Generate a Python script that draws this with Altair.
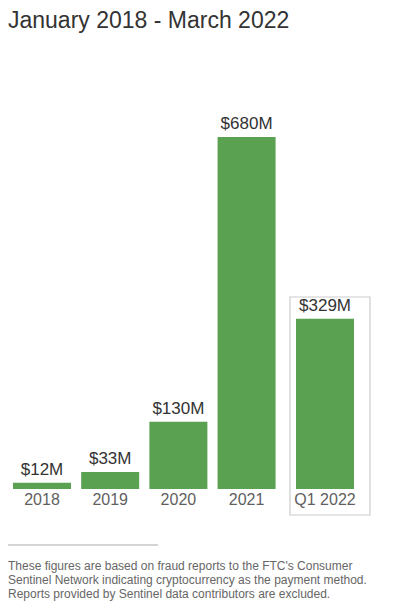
import altair as alt
import pandas as pd

categories = ["2018", "2019", "2020", "2021", "Q1 2022"]
values = [12, 33, 130, 680, 329]
value_labels = ["$12M", "$33M", "$130M", "$680M", "$329M"]

title_text = "January 2018 - March 2022"
footnote = [
    "These figures are based on fraud reports to the FTC's Consumer",
    "Sentinel Network indicating cryptocurrency as the payment method.",
    "Reports provided by Sentinel data contributors are excluded.",
]

# position index along x; the last (partial-year) bar is set a little apart
gap = 0.15
pos = [i + (gap if c.startswith("Q") else 0) for i, c in enumerate(categories)]

df = pd.DataFrame({"cat": categories, "value": values, "label": value_labels, "pos": pos})

GREEN = "#5aa152"
FONT = "Liberation Sans"

xscale = alt.Scale(domain=[0, 4.15], range=[29, 322])
yscale = alt.Scale(domain=[0, 680], range=[481, 129])

base = alt.Chart(df)

bars = base.mark_bar(color=GREEN, size=58).encode(
    x=alt.X("pos:Q", scale=xscale, axis=None),
    y=alt.Y("value:Q", scale=yscale, axis=None),
)

vlabels = base.mark_text(font=FONT, fontSize=17, color="#333333", baseline="bottom", dy=-4).encode(
    x=alt.X("pos:Q", scale=xscale, axis=None),
    y=alt.Y("value:Q", scale=yscale, axis=None),
    text="label:N",
)

clabels = base.mark_text(font=FONT, fontSize=16, color="#5f5f5f", baseline="alphabetic").encode(
    x=alt.X("pos:Q", scale=xscale, axis=None),
    y=alt.value(497),
    text="cat:N",
)

one = pd.DataFrame({"a": [0]})

box = alt.Chart(one).mark_rect(
    fill="transparent", stroke="#cccccc", strokeWidth=1.2
).encode(
    x=alt.value(282), x2=alt.value(362), y=alt.value(289), y2=alt.value(507)
)

title = alt.Chart(one).mark_text(
    font=FONT, fontSize=23, color="#333333", align="left", baseline="alphabetic",
    text=title_text,
).encode(x=alt.value(0), y=alt.value(20))

rule = alt.Chart(one).mark_rule(color="#aaaaaa", strokeWidth=1).encode(
    x=alt.value(0), x2=alt.value(150), y=alt.value(537)
)

fn = alt.Chart(one).mark_text(
    font=FONT, fontSize=12, color="#666666", align="left", baseline="alphabetic",
    text="\n".join(footnote), lineBreak="\n", lineHeight=14,
).encode(x=alt.value(0), y=alt.value(562))

chart = alt.layer(box, bars, vlabels, clabels, title, rule, fn).properties(
    width=380, height=593, padding=0, autosize=alt.AutoSizeParams(type="none")
).configure_view(stroke=None)

chart.save("out.html", embed_options={"renderer": "svg", "actions": False})
